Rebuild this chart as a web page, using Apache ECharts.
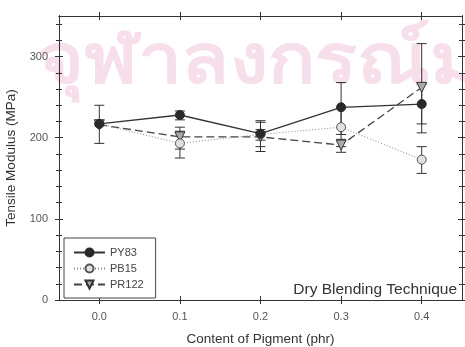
<!DOCTYPE html>
<html>
<head>
<meta charset="utf-8">
<script src="https://cdn.jsdelivr.net/npm/echarts@6/dist/echarts.min.js"></script>
<style>
  html, body { margin: 0; padding: 0; background: #fff; }
  #chart { width: 465px; height: 347px; }
</style>
</head>
<body>
<div id="chart"></div>
<script>
// pigment content (phr)
var xValues = [0, 0.1, 0.2, 0.3, 0.4];
var xTicks = [0, 0.1, 0.2, 0.3, 0.4];
var yTicks = [0, 100, 200, 300];
var yMinorTicks = [20, 40, 60, 80, 120, 140, 160, 180, 220, 240, 260, 280, 320, 340];

var seriesNames = ['PY83', 'PB15', 'PR122'];

var py83 = [217, 228, 205, 237.5, 241.5];
var py83Low = [193, 222, 189, 204, 217];
var py83High = [240, 233, 221, 268, 266];

var pb15 = [217, 193, 204, 213, 173];
var pb15Low = [null, 175, 197, 189, 156];
var pb15High = [null, 208, 210, 237, 189];

var pr122 = [216, 201, 201, 191, 262];
var pr122Low = [null, 186, 183, 182, 206];
var pr122High = [null, 213, 219, 198, 316];

var chart = echarts.init(document.getElementById('chart'));

var FONT = '"Liberation Sans", Arial, sans-serif';
var AXIS = '#333';
var LABEL = '#555';

function pairs(ys) {
  var out = [];
  for (var i = 0; i < xValues.length; i++) out.push([xValues[i], ys[i]]);
  return out;
}
function errData(lo, hi) {
  var out = [];
  for (var i = 0; i < xValues.length; i++) {
    if (lo[i] == null) continue;
    out.push([xValues[i], lo[i], hi[i]]);
  }
  return out;
}

// x axes: bottom + top, ticks drawn both inside and outside
function xAx(pos, inside, first) {
  return {
    type: 'value', position: pos, min: -0.05, max: 0.45,
    name: first ? 'Content of Pigment (phr)' : '',
    nameLocation: 'middle', nameGap: 32,
    nameTextStyle: { fontFamily: FONT, fontSize: 13.5, color: '#333' },
    axisLine: { show: true, onZero: false, lineStyle: { color: AXIS, width: 1 } },
    axisTick: { show: true, inside: inside, length: 4, customValues: xTicks, lineStyle: { color: AXIS } },
    axisLabel: {
      show: !!first, customValues: xTicks, margin: 11,
      fontFamily: FONT, fontSize: 11, color: LABEL,
      formatter: function (v) { return v.toFixed(1); }
    },
    splitLine: { show: false }
  };
}
// y axes: left + right, major and minor ticks both directions
function yAx(pos, inside, ticks, len, first) {
  return {
    type: 'value', position: pos, min: 0, max: 350,
    name: first ? 'Tensile Modulus (MPa)' : '',
    nameLocation: 'middle', nameGap: 37,
    nameTextStyle: { fontFamily: FONT, fontSize: 13.5, color: '#333' },
    axisLine: { show: true, onZero: false, lineStyle: { color: AXIS, width: 1 } },
    axisTick: { show: true, inside: inside, length: len, customValues: ticks, lineStyle: { color: AXIS } },
    axisLabel: {
      show: !!first, customValues: yTicks, margin: 11,
      fontFamily: FONT, fontSize: 11, color: LABEL
    },
    splitLine: { show: false }
  };
}

function errorSeries(name, lo, hi) {
  return {
    type: 'custom',
    name: name + ' err',
    z: 1,
    silent: true,
    data: errData(lo, hi),
    encode: { x: 0, y: [1, 2] },
    renderItem: function (params, api) {
      var x = api.value(0);
      var top = api.coord([x, api.value(2)]);
      var bot = api.coord([x, api.value(1)]);
      var w = 5;
      var st = { stroke: '#333', lineWidth: 1 };
      return {
        type: 'group',
        children: [
          { type: 'line', shape: { x1: top[0], y1: top[1], x2: bot[0], y2: bot[1] }, style: st },
          { type: 'line', shape: { x1: top[0] - w, y1: top[1], x2: top[0] + w, y2: top[1] }, style: st },
          { type: 'line', shape: { x1: bot[0] - w, y1: bot[1], x2: bot[0] + w, y2: bot[1] }, style: st }
        ]
      };
    }
  };
}

var option = {
  animation: false,
  backgroundColor: '#fff',
  grid: { left: 59, right: 3, top: 16, bottom: 47, containLabel: false, outerBoundsMode: 'none' },
  xAxis: [
    xAx('bottom', true, true),
    xAx('bottom', false, false),
    xAx('top', true, false),
    xAx('top', false, false)
  ],
  yAxis: [
    yAx('left', true, yTicks, 4, true),
    yAx('left', false, yTicks, 4, false),
    yAx('left', true, yMinorTicks, 3, false),
    yAx('left', false, yMinorTicks, 3, false),
    yAx('right', true, yTicks, 4, false),
    yAx('right', false, yTicks, 4, false),
    yAx('right', true, yMinorTicks, 3, false),
    yAx('right', false, yMinorTicks, 3, false)
  ],
  legend: {
    data: seriesNames,
    orient: 'vertical',
    left: 64, top: 238,
    padding: [9, 12, 8, 9],
    itemWidth: 31, itemHeight: 10, itemGap: 5,
    backgroundColor: '#fff',
    borderColor: '#444', borderWidth: 1, borderRadius: 0,
    textStyle: { fontFamily: FONT, fontSize: 11, color: '#444' }
  },
  graphic: [
    {
      // scanned library watermark
      type: 'text', x: 38, y: 30, scaleX: 1.12, z: -10, silent: true,
      style: { text: 'จุฬาลงกรณ์มหาวิทยาลัย', font: 'bold 70px "DejaVu Sans", "Noto Sans", sans-serif', fill: '#f6dfeb' }
    },
    {
      type: 'text', x: 457, y: 290, z: 100,
      style: {
        text: 'Dry Blending Technique', textAlign: 'right', textVerticalAlign: 'middle',
        font: '15.5px ' + FONT, fill: '#333'
      }
    }
  ],
  series: [
    errorSeries('PY83', py83Low, py83High),
    errorSeries('PB15', pb15Low, pb15High),
    errorSeries('PR122', pr122Low, pr122High),
    {
      name: 'PY83', type: 'line', z: 5, data: pairs(py83),
      symbol: 'circle', symbolSize: 9,
      lineStyle: { color: '#333', width: 1.3, type: 'solid' },
      itemStyle: { color: '#2a2a2a', borderColor: '#2a2a2a', borderWidth: 1 }
    },
    {
      name: 'PB15', type: 'line', z: 4, data: pairs(pb15),
      symbol: 'circle', symbolSize: 9,
      lineStyle: { color: '#888', width: 1, type: [1, 2] },
      itemStyle: { color: '#e0e0e0', borderColor: '#555', borderWidth: 1 }
    },
    {
      name: 'PR122', type: 'line', z: 3, data: pairs(pr122),
      symbol: 'triangle', symbolSize: 10, symbolRotate: 180,
      lineStyle: { color: '#444', width: 1.3, type: [8, 4] },
      itemStyle: { color: '#aaa', borderColor: '#333', borderWidth: 1 }
    }
  ]
};

chart.setOption(option);
</script>
</body>
</html>
